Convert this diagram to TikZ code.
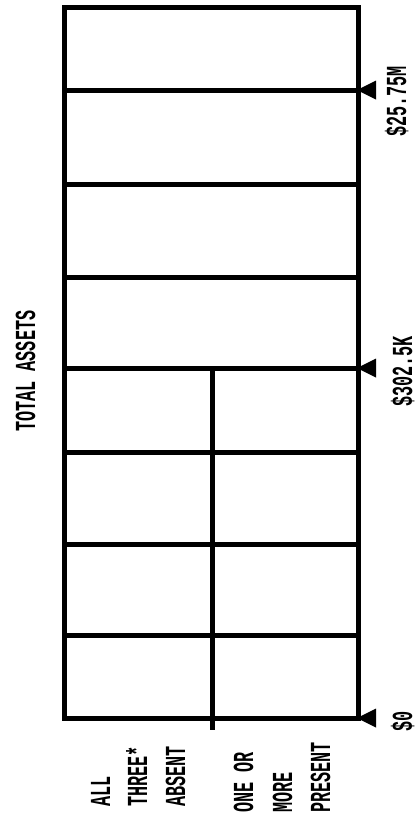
\documentclass[tikz,border=0pt]{standalone}
\usepackage{fontspec}
\newfontfamily\lblfont[FakeStretch=0.58]{Liberation Mono}
\begin{document}
\begin{tikzpicture}[x=1pt,y=-1pt,
  grid/.style={line width=5pt},
  tri/.style={fill=black},
  lbl/.style={font=\lblfont\bfseries\fontsize{29}{38}\selectfont, inner sep=0pt, rotate=90, anchor=base west}]
\useasboundingbox (0,0) rectangle (418,823);
% grid
\draw[grid] (64,7.5) rectangle (358,718);
\foreach \yy in {90,184,277,368,452,544,635} \draw[grid] (64,\yy) -- (358,\yy);
\draw[grid] (212,368) -- (212,730);
% markers
\coordinate (m1) at (357,90);
\coordinate (m2) at (357,368);
\coordinate (m3) at (357,718);
\foreach \m in {m1,m2,m3} \fill[tri] (\m) -- ++(19,-9.5) -- ++(0,19) -- cycle;
% labels
\node[lbl] (tot) at (35,432) {TOTAL ASSETS};
\node[lbl] (v1) at (406,137) {\$25.75M};
\node[lbl] (v2) at (412,407) {\$302.5K};
\node[lbl] (v3) at (412,732) {\$0};
\node[lbl] (a1) at (110,807) {ALL};
\node[lbl] (a2) at (147,807) {THREE*};
\node[lbl] (a3) at (185,807) {ABSENT};
\node[lbl] (b1) at (253,813) {ONE OR};
\node[lbl] (b2) at (292,813) {MORE};
\node[lbl] (b3) at (330,813) {PRESENT};
\end{tikzpicture}
\end{document}
